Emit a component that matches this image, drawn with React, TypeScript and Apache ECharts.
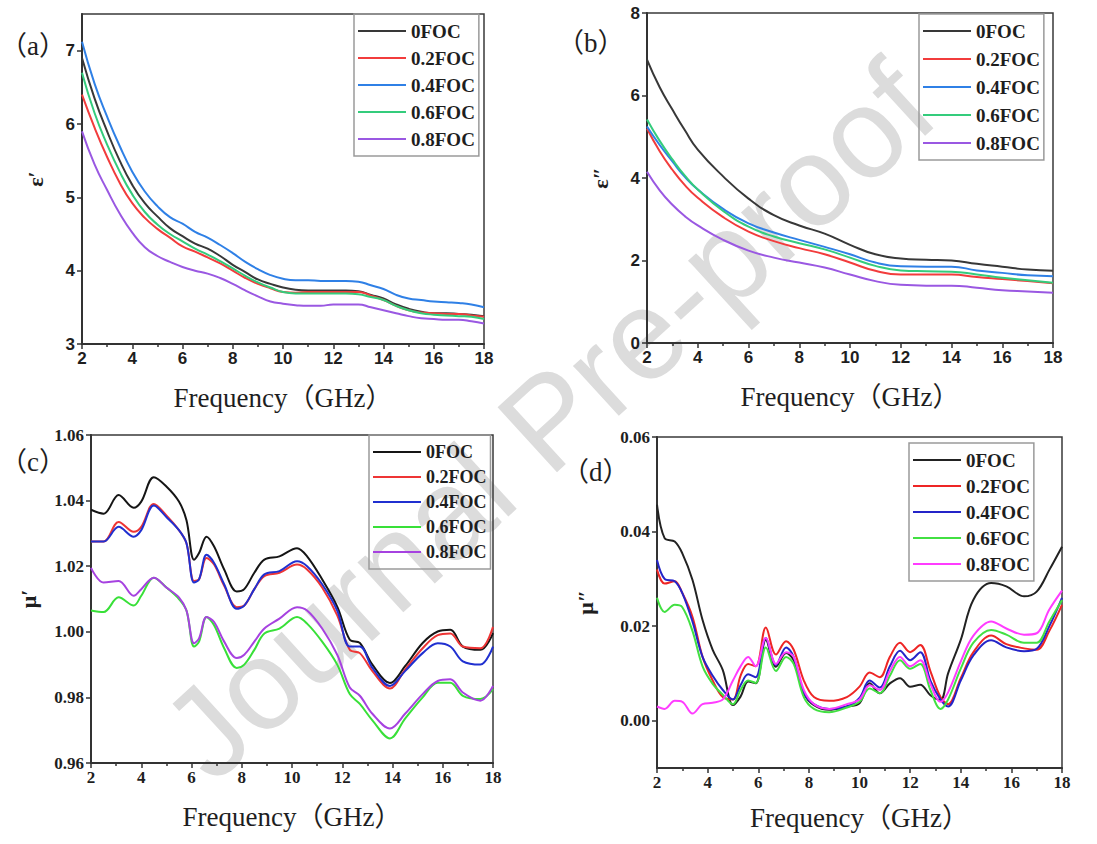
import React, { useEffect, useRef } from "react";
import * as echarts from "echarts";

// ---------- DATA ----------
const NAMES = ["0FOC", "0.2FOC", "0.4FOC", "0.6FOC", "0.8FOC"];

// (a) real permittivity ε'
const FREQ_A = [2, 2.5, 3, 3.5, 4, 4.5, 5, 5.5, 6, 6.5, 7, 7.5, 8, 8.5, 9, 9.5, 10, 10.5, 11, 11.5, 12, 12.5, 13, 13.5, 14, 14.5, 15, 15.5, 16, 16.5, 17, 17.5, 18];
const A_0 = [6.9, 6.35, 5.9, 5.5, 5.17, 4.92, 4.74, 4.58, 4.47, 4.37, 4.3, 4.2, 4.08, 3.98, 3.88, 3.82, 3.77, 3.74, 3.73, 3.73, 3.73, 3.73, 3.72, 3.67, 3.62, 3.54, 3.48, 3.44, 3.42, 3.42, 3.41, 3.4, 3.38];
const A_2 = [6.4, 5.95, 5.55, 5.2, 4.92, 4.72, 4.57, 4.45, 4.33, 4.26, 4.18, 4.1, 4.0, 3.9, 3.82, 3.76, 3.71, 3.7, 3.71, 3.71, 3.71, 3.71, 3.71, 3.66, 3.6, 3.52, 3.46, 3.43, 3.42, 3.41, 3.41, 3.39, 3.37];
const A_4 = [7.12, 6.55, 6.1, 5.7, 5.35, 5.08, 4.88, 4.73, 4.64, 4.53, 4.45, 4.35, 4.24, 4.12, 4.02, 3.94, 3.89, 3.87, 3.87, 3.86, 3.86, 3.86, 3.85, 3.8, 3.75, 3.67, 3.62, 3.6, 3.58, 3.57, 3.56, 3.54, 3.5];
const A_6 = [6.7, 6.15, 5.72, 5.35, 5.04, 4.8, 4.63, 4.5, 4.4, 4.3, 4.22, 4.13, 4.03, 3.93, 3.84, 3.77, 3.71, 3.69, 3.69, 3.69, 3.69, 3.69, 3.68, 3.64, 3.6, 3.52, 3.46, 3.42, 3.4, 3.39, 3.38, 3.37, 3.34];
const A_8 = [5.9, 5.45, 5.1, 4.78, 4.52, 4.32, 4.2, 4.12, 4.05, 4.0, 3.96, 3.9, 3.82, 3.73, 3.65, 3.58, 3.55, 3.53, 3.52, 3.52, 3.54, 3.54, 3.54, 3.5, 3.46, 3.42, 3.38, 3.35, 3.34, 3.33, 3.33, 3.31, 3.28];

// (b) imaginary permittivity ε''
const FREQ_B = [2, 2.5, 3, 3.5, 4, 5, 6, 7, 8, 9, 10, 11, 12, 13, 14, 15, 16, 17, 18];
const B_0 = [6.87, 6.2, 5.66, 5.15, 4.69, 4.04, 3.5, 3.1, 2.85, 2.65, 2.38, 2.15, 2.05, 2.02, 2.0, 1.92, 1.85, 1.78, 1.75];
const B_2 = [5.2, 4.65, 4.2, 3.82, 3.52, 3.05, 2.7, 2.47, 2.3, 2.15, 1.95, 1.75, 1.66, 1.66, 1.66, 1.6, 1.55, 1.5, 1.45];
const B_4 = [5.25, 4.8, 4.4, 4.02, 3.72, 3.25, 2.9, 2.68, 2.5, 2.33, 2.15, 1.95, 1.86, 1.85, 1.85, 1.76, 1.7, 1.64, 1.62];
const B_6 = [5.42, 4.9, 4.45, 4.05, 3.72, 3.2, 2.82, 2.58, 2.42, 2.27, 2.07, 1.87, 1.76, 1.74, 1.73, 1.66, 1.58, 1.52, 1.46];
const B_8 = [4.15, 3.7, 3.35, 3.07, 2.85, 2.5, 2.24, 2.07, 1.95, 1.83, 1.66, 1.5, 1.41, 1.39, 1.39, 1.34, 1.28, 1.25, 1.22];

// (c) real permeability μ'
const FREQ_C = [2, 2.5, 3.1, 3.7, 4.0, 4.5, 5.0, 5.5, 5.8, 6.1, 6.3, 6.6, 6.9, 7.3, 7.8, 8.1, 8.5, 8.9, 9.5, 10.2, 10.6, 11.2, 11.8, 12.3, 12.7, 13.2, 13.9, 14.5, 15.2, 15.8, 16.3, 16.8, 17.5, 18];
const C_0 = [1.0372, 1.036, 1.0417, 1.0378, 1.0397, 1.0471, 1.0443, 1.0397, 1.034, 1.022, 1.024, 1.029, 1.026, 1.019, 1.0123, 1.013, 1.018, 1.022, 1.023, 1.0255, 1.023, 1.016, 1.0077, 0.9976, 0.9966, 0.99, 0.9844, 0.9895, 0.9966, 1.0001, 1.0006, 0.9955, 0.9945, 0.9996];
const C_2 = [1.0275, 1.0275, 1.0335, 1.0305, 1.032, 1.039, 1.0355, 1.031, 1.027, 1.0155, 1.016, 1.0225, 1.0205, 1.014, 1.0075, 1.008, 1.013, 1.017, 1.018, 1.0205, 1.019, 1.0135, 1.005, 0.9945, 0.9935, 0.988, 0.9827, 0.9885, 0.995, 0.999, 0.9995, 0.9955, 0.995, 1.0015];
const C_4 = [1.0275, 1.0275, 1.032, 1.029, 1.031, 1.0385, 1.035, 1.031, 1.027, 1.015, 1.016, 1.0235, 1.021, 1.0145, 1.007, 1.008, 1.013, 1.0175, 1.0185, 1.0215, 1.02, 1.0145, 1.0065, 0.9955, 0.9955, 0.989, 0.9835, 0.988, 0.9935, 0.9965, 0.9955, 0.991, 0.99, 0.9955];
const C_6 = [1.0065, 1.006, 1.0105, 1.008, 1.011, 1.0165, 1.0135, 1.01, 1.0065, 0.9955, 0.997, 1.0045, 1.002, 0.995, 0.989, 0.99, 0.9945, 0.9995, 1.001, 1.0045, 1.0025, 0.997, 0.99, 0.981, 0.978, 0.973, 0.9675, 0.9735, 0.98, 0.9845, 0.9845, 0.9805, 0.9795, 0.9825];
const C_8 = [1.0195, 1.015, 1.0155, 1.011, 1.013, 1.0165, 1.0135, 1.0105, 1.0065, 0.9965, 0.998, 1.0045, 1.003, 0.997, 0.992, 0.993, 0.997, 1.001, 1.004, 1.0075, 1.0065, 1.001, 0.993, 0.983, 0.9805, 0.975, 0.9705, 0.975, 0.981, 0.985, 0.9855, 0.9815, 0.979, 0.9835];

// (d) imaginary permeability μ''
const FREQ_D = [2, 2.3, 2.7, 3.0, 3.4, 3.8, 4.2, 4.6, 5.0, 5.3, 5.6, 5.9, 6.3, 6.7, 7.1, 7.4, 7.8, 8.2, 8.8, 9.5, 10.0, 10.4, 10.8, 11.2, 11.6, 12.0, 12.4, 12.8, 13.2, 13.5, 14.0, 14.5, 15.2, 15.8, 16.5, 17.0, 17.5, 18];
const D_0 = [0.0457, 0.0386, 0.0379, 0.0354, 0.0298, 0.0213, 0.015, 0.0107, 0.0033, 0.0051, 0.0083, 0.0079, 0.0171, 0.0114, 0.0143, 0.0128, 0.0058, 0.0033, 0.0023, 0.003, 0.0037, 0.0079, 0.0058, 0.0079, 0.009, 0.0072, 0.0076, 0.0054, 0.0044, 0.01, 0.0171, 0.0256, 0.0291, 0.0284, 0.0263, 0.0273, 0.0319, 0.0368];
const D_2 = [0.032, 0.029, 0.0295, 0.027, 0.022, 0.0135, 0.0085, 0.005, 0.0045, 0.0095, 0.012, 0.0115, 0.0197, 0.014, 0.0168, 0.015, 0.0085, 0.005, 0.0042, 0.005, 0.0072, 0.0102, 0.0092, 0.0135, 0.0165, 0.0145, 0.016, 0.0105, 0.005, 0.0035, 0.009, 0.0145, 0.018, 0.0162, 0.0153, 0.015, 0.019, 0.0245];
const D_4 = [0.034, 0.03, 0.0295, 0.027, 0.021, 0.0135, 0.0095, 0.0065, 0.0045, 0.0075, 0.0098, 0.0092, 0.0175, 0.0118, 0.0155, 0.0135, 0.006, 0.0035, 0.0025, 0.003, 0.0048, 0.0085, 0.007, 0.0115, 0.0148, 0.0128, 0.0145, 0.0085, 0.0045, 0.003, 0.0085, 0.0138, 0.017, 0.0155, 0.0147, 0.0152, 0.02, 0.026];
const D_6 = [0.026, 0.023, 0.0245, 0.024, 0.019, 0.0115, 0.0078, 0.0055, 0.0035, 0.0065, 0.0085, 0.008, 0.0155, 0.0105, 0.0135, 0.012, 0.005, 0.0025, 0.0018, 0.0028, 0.004, 0.0068, 0.0058, 0.0095, 0.0128, 0.011, 0.012, 0.0065, 0.0025, 0.0045, 0.011, 0.0165, 0.0192, 0.0182, 0.0165, 0.0165, 0.021, 0.0255];
const D_8 = [0.003, 0.0025, 0.0042, 0.004, 0.0015, 0.0035, 0.0038, 0.0045, 0.0085, 0.0115, 0.0135, 0.0115, 0.0175, 0.012, 0.0145, 0.0135, 0.0065, 0.0035, 0.0025, 0.0035, 0.0045, 0.0075, 0.0065, 0.0105, 0.0135, 0.0115, 0.0128, 0.0078, 0.004, 0.006, 0.0125, 0.018, 0.021, 0.0195, 0.0182, 0.0185, 0.0235, 0.0275];

const X_TICKS = [2, 4, 6, 8, 10, 12, 14, 16, 18];

const COLORS_AB = ["#383838", "#f23c3c", "#2f80e6", "#34cc7c", "#9a58e2"];
const COLORS_C = ["#151515", "#ee3535", "#2030d0", "#38e038", "#a642e0"];
const COLORS_D = ["#222222", "#ee2525", "#2424c8", "#42e042", "#ff3cff"];

// ---------- CHART ----------
const pair = (xs: number[], ys: number[]) => xs.map((x, i) => [x, ys[i]]);

const PANELS = [
  { freq: FREQ_A, sets: [A_0, A_2, A_4, A_6, A_8], colors: COLORS_AB, smooth: true },
  { freq: FREQ_B, sets: [B_0, B_2, B_4, B_6, B_8], colors: COLORS_AB, smooth: true },
  { freq: FREQ_C, sets: [C_0, C_2, C_4, C_6, C_8], colors: COLORS_C, smooth: 0.35 },
  { freq: FREQ_D, sets: [D_0, D_2, D_4, D_6, D_8], colors: COLORS_D, smooth: 0.35 },
];

const GRIDS = [
  { left: 82, top: 14, width: 402, height: 330 },
  { left: 647, top: 13, width: 406, height: 330 },
  { left: 91, top: 435, width: 402, height: 328 },
  { left: 657, top: 437, width: 405, height: 331 },
];

const SANS = "'Liberation Sans', Arial, sans-serif";
const SERIF = "'Liberation Serif', 'Times New Roman', 'Noto Sans CJK SC', serif";

function buildOption() {
  const grid = GRIDS.map((g) => ({
    ...g,
    show: true,
    borderColor: "#3a3a3a",
    borderWidth: 1.5,
    backgroundColor: "transparent",
  }));

  const labelFont = (i: number) => ({
    fontFamily: i < 2 ? SANS : SERIF,
    fontWeight: "bold",
    fontSize: 17,
    color: "#1e1e1e",
  });

  const xAxis = PANELS.map((_, i) => ({
    type: "value",
    gridIndex: i,
    min: 2,
    max: 18,
    interval: 2,
    name: "Frequency（GHz）",
    nameLocation: "middle",
    nameGap: i === 3 ? 36 : 40,
    nameTextStyle: { fontFamily: SERIF, fontSize: 27, color: "#1e1e1e" },
    axisLine: { show: true, onZero: false, lineStyle: { color: "#333", width: 2 } },
    axisTick: { show: true, length: 5, lineStyle: { color: "#333", width: 1.5 } },
    minorTick: { show: true, splitNumber: 2, length: 3, lineStyle: { color: "#333", width: 1.5 } },
    splitLine: { show: false },
    axisLabel: { ...labelFont(i), margin: 6, customValues: X_TICKS },
  }));

  const yCfg = [
    { min: 3, max: 7.5, interval: 1, ticks: [3, 4, 5, 6, 7], name: "ε′", gap: 36, fmt: (v: number) => String(v) },
    { min: 0, max: 8, interval: 2, ticks: [0, 2, 4, 6, 8], name: "ε″", gap: 36, fmt: (v: number) => String(v) },
    { min: 0.96, max: 1.06, interval: 0.02, ticks: [0.96, 0.98, 1.0, 1.02, 1.04, 1.06], name: "μ′", gap: 52, fmt: (v: number) => v.toFixed(2) },
    { min: -0.01, max: 0.06, interval: 0.01, ticks: [0, 0.02, 0.04, 0.06], name: "μ″", gap: 61, fmt: (v: number) => v.toFixed(2) },
  ];

  const yAxis = yCfg.map((c, i) => ({
    type: "value",
    gridIndex: i,
    min: c.min,
    max: c.max,
    interval: c.interval,
    name: c.name,
    nameLocation: "middle",
    nameRotate: 90,
    nameGap: c.gap,
    nameTextStyle: { fontFamily: SERIF, fontWeight: "bold", fontSize: 22, color: "#1e1e1e" },
    axisLine: { show: true, onZero: false, lineStyle: { color: "#333", width: 2 } },
    axisTick: { show: true, length: 5, customValues: c.ticks, lineStyle: { color: "#333", width: 1.5 } },
    splitLine: { show: false },
    axisLabel: {
      ...labelFont(i),
      margin: 7,
      customValues: c.ticks,
      formatter: (v: number) => (c.ticks.some((t) => Math.abs(t - v) < 1e-9) ? c.fmt(v) : ""),
    },
  }));

  const series: any[] = [];
  PANELS.forEach((p, i) => {
    p.sets.forEach((ys, k) => {
      series.push({
        type: "line",
        name: NAMES[k],
        xAxisIndex: i,
        yAxisIndex: i,
        data: pair(p.freq, ys),
        symbol: "none",
        smooth: p.smooth,
        lineStyle: { color: p.colors[k], width: 2 },
        itemStyle: { color: p.colors[k] },
        z: 3,
      });
    });
  });

  const legendPos = [
    { left: 354, top: 14, gap: 5, fs: 19 },
    { left: 919, top: 14, gap: 6, fs: 19 },
    { left: 369, top: 435, gap: 3, fs: 18 },
    { left: 909, top: 443, gap: 4, fs: 19 },
  ];

  const legend = legendPos.map((l, i) => ({
    orient: "vertical",
    left: l.left,
    top: l.top,
    itemWidth: 48,
    itemHeight: 12,
    itemGap: l.gap,
    padding: [6, 4, 6, 4],
    borderColor: "#9a9a9a",
    borderWidth: 1.5,
    selectedMode: false,
    textStyle: { fontFamily: SERIF, fontWeight: "bold", fontSize: l.fs, color: "#1e1e1e", lineHeight: 22 },
    data: NAMES.map((n, k) => ({
      name: n,
      icon: "path://M0,0 L48,0 L48,2 L0,2 Z",
      itemStyle: { color: PANELS[i].colors[k] },
    })),
  }));

  const title = [
    { text: "（a）", left: 0, top: 32 },
    { text: "（b）", left: 557, top: 29 },
    { text: "（c）", left: 0, top: 448 },
    { text: "（d）", left: 562, top: 458 },
  ].map((t) => ({
    ...t,
    padding: 0,
    textStyle: { fontFamily: SERIF, fontWeight: "normal", fontSize: 27, color: "#1e1e1e" },
  }));

  return {
    animation: false,
    backgroundColor: "#ffffff",
    title,
    grid,
    xAxis,
    yAxis,
    legend,
    series,
    graphic: [
      {
        type: "text",
        x: 548,
        y: 420,
        rotation: 0.74,
        z: -10,
        silent: true,
        style: {
          text: "Journal Pre-proof",
          fontSize: 128,
          fontFamily: SANS,
          fill: "#dcdcdc",
          align: "center",
          verticalAlign: "middle",
        },
      },
    ],
  };
}

export default function App() {
  const ref = useRef<HTMLDivElement>(null);
  useEffect(() => {
    if (!ref.current) return;
    const chart = echarts.init(ref.current, undefined, { renderer: "svg" });
    chart.setOption(buildOption() as any);
    return () => chart.dispose();
  }, []);
  return (
    <div
      ref={ref}
      style={{ position: "fixed", left: 0, top: 0, width: 1097, height: 844, background: "#fff" }}
    />
  );
}
